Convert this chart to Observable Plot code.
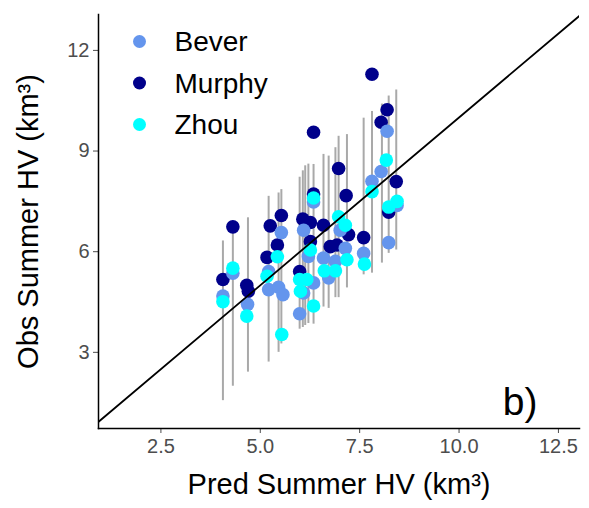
<!DOCTYPE html>
<html>
<head>
<meta charset="utf-8">
<script src="https://cdn.jsdelivr.net/npm/d3@7"></script>
<script src="https://cdn.jsdelivr.net/npm/@observablehq/plot@0.6"></script>
<style>
  html, body { margin: 0; padding: 0; background: #fff; }
  svg { font-family: "Liberation Sans", Arial, sans-serif; }
</style>
</head>
<body>
<div id="chart"></div>
<script>
// Error bars: predicted value, lower and upper bound
const barPred = [4.06, 4.31, 4.69, 5.21, 5.46, 5.53, 5.99, 6.07, 6.13, 6.21, 6.34, 6.59, 6.72, 6.89, 6.97, 7.18, 7.60, 7.81, 8.06, 8.23, 8.42];
const barLo   = [1.56, 1.99, 2.41, 2.71, 3.00, 3.25, 3.69, 3.74, 3.80, 3.86, 3.84, 4.35, 4.31, 4.63, 4.63, 4.92, 5.31, 5.36, 5.66, 5.95, 6.05];
const barHi   = [6.32, 6.70, 7.01, 7.65, 7.75, 7.85, 8.22, 8.41, 8.56, 8.61, 8.60, 8.90, 8.85, 9.10, 9.44, 9.49, 9.98, 10.18, 10.40, 10.64, 10.82];

// Observed vs predicted, per source
const beverPred  = [4.06, 4.31, 4.68, 5.21, 5.21, 5.46, 5.53, 5.57, 5.99, 6.09, 6.09, 6.21, 6.34, 6.34, 6.59, 6.72, 6.89, 7.01, 7.14, 7.60, 7.81, 8.04, 8.19, 8.23, 8.44];
const beverObs   = [4.68, 5.36, 4.43, 5.41, 4.87, 4.94, 6.57, 4.72, 4.15, 6.64, 4.77, 5.86, 7.48, 5.07, 5.81, 5.22, 5.71, 6.64, 6.10, 5.95, 8.10, 8.39, 9.59, 6.27, 7.38];
const murphyPred = [4.06, 4.31, 4.66, 4.70, 5.17, 5.25, 5.43, 5.53, 5.99, 6.07, 6.26, 6.26, 6.34, 6.34, 6.59, 6.76, 6.93, 6.97, 7.16, 7.22, 7.60, 7.81, 8.04, 8.19, 8.23, 8.42];
const murphyObs  = [5.17, 6.74, 5.00, 4.82, 5.83, 6.77, 6.20, 7.08, 5.41, 6.97, 6.87, 6.30, 9.56, 7.72, 6.79, 6.15, 6.20, 8.48, 7.67, 6.51, 6.42, 11.29, 9.86, 10.23, 7.18, 8.09];
const zhouPred   = [4.06, 4.31, 4.66, 5.17, 5.43, 5.54, 5.99, 6.01, 6.17, 6.26, 6.34, 6.34, 6.61, 6.89, 6.97, 7.14, 7.18, 7.62, 7.81, 8.17, 8.23, 8.44];
const zhouObs    = [4.51, 5.51, 4.08, 5.27, 5.85, 3.53, 5.17, 4.82, 5.17, 6.05, 7.60, 4.38, 5.43, 5.43, 7.04, 6.79, 5.76, 5.63, 7.79, 8.73, 7.33, 7.50];

const sources = ["Bever", "Murphy", "Zhou"];
const sourceColors = ["#6495ED", "#00008B", "#00FFFF"];

const xTicks = [2.5, 5.0, 7.5, 10.0, 12.5];
const yTicks = [3, 6, 9, 12];
const xDomain = [0.93, 13.03];
const yDomain = [0.73, 13.07];

const bars = barPred.map((p, i) => ({pred: p, lo: barLo[i], hi: barHi[i]}));
const mk = (pred, obs, src) => pred.map((p, i) => ({pred: p, obs: obs[i], src}));
const points = [
  ...mk(murphyPred, murphyObs, "Murphy"),
  ...mk(beverPred, beverObs, "Bever"),
  ...mk(zhouPred, zhouObs, "Zhou")
];
const oneToOne = [xDomain[0] - 1, xDomain[1] + 1].map(v => ({pred: v, obs: v}));

const font = "Liberation Sans, Arial, sans-serif";

const legendMarks = sources.flatMap((s, i) => [
  Plot.dot([s], {frameAnchor: "top-left", dx: 41, dy: 27 + i * 41.5, r: 6.5, fill: sourceColors[i], stroke: "none"}),
  Plot.text([s], {frameAnchor: "top-left", dx: 76, dy: 28 + i * 41.5, text: d => d, textAnchor: "start", lineAnchor: "middle", fontSize: 28, fill: "#000"})
]);

const chart = Plot.plot({
  width: 589,
  height: 508,
  marginLeft: 98,
  marginRight: 10,
  marginTop: 14,
  marginBottom: 80,
  style: {fontFamily: font, background: "#fff"},
  x: {domain: xDomain, ticks: xTicks},
  y: {domain: yDomain, ticks: yTicks},
  color: {domain: sources, range: sourceColors},
  marks: [
    Plot.ruleX(bars, {x: "pred", y1: "lo", y2: "hi", stroke: "#A9A9A9", strokeWidth: 2}),
    Plot.dot(points, {x: "pred", y: "obs", fill: "src", r: 6.8, stroke: "none"}),
    Plot.line(oneToOne, {x: "pred", y: "obs", stroke: "#000", strokeWidth: 1.8, clip: true}),
    Plot.axisX({ticks: xTicks, tickFormat: d3.format(".1f"), tickSize: 5, tickPadding: 5, fontSize: 20, color: "#4d4d4d", label: null}),
    Plot.axisY({ticks: yTicks, tickSize: 5, tickPadding: 4, fontSize: 20, color: "#4d4d4d", label: null}),
    Plot.frame({anchor: "left", stroke: "#000", strokeWidth: 1.5}),
    Plot.frame({anchor: "bottom", stroke: "#000", strokeWidth: 1.5}),
    Plot.text(["Pred Summer HV (km³)"], {frameAnchor: "bottom", dy: 56, text: d => d, lineAnchor: "middle", textAnchor: "middle", fontSize: 29, fill: "#000"}),
    Plot.text(["Obs Summer HV (km³)"], {frameAnchor: "left", dx: -70, rotate: -90, text: d => d, lineAnchor: "middle", textAnchor: "middle", fontSize: 29, fill: "#000"}),
    Plot.text(["b)"], {frameAnchor: "bottom-right", dx: -42, dy: -14, text: d => d, lineAnchor: "bottom", textAnchor: "end", fontSize: 39, fill: "#000"}),
    ...legendMarks
  ]
});
document.getElementById("chart").appendChild(chart);
</script>
</body>
</html>
